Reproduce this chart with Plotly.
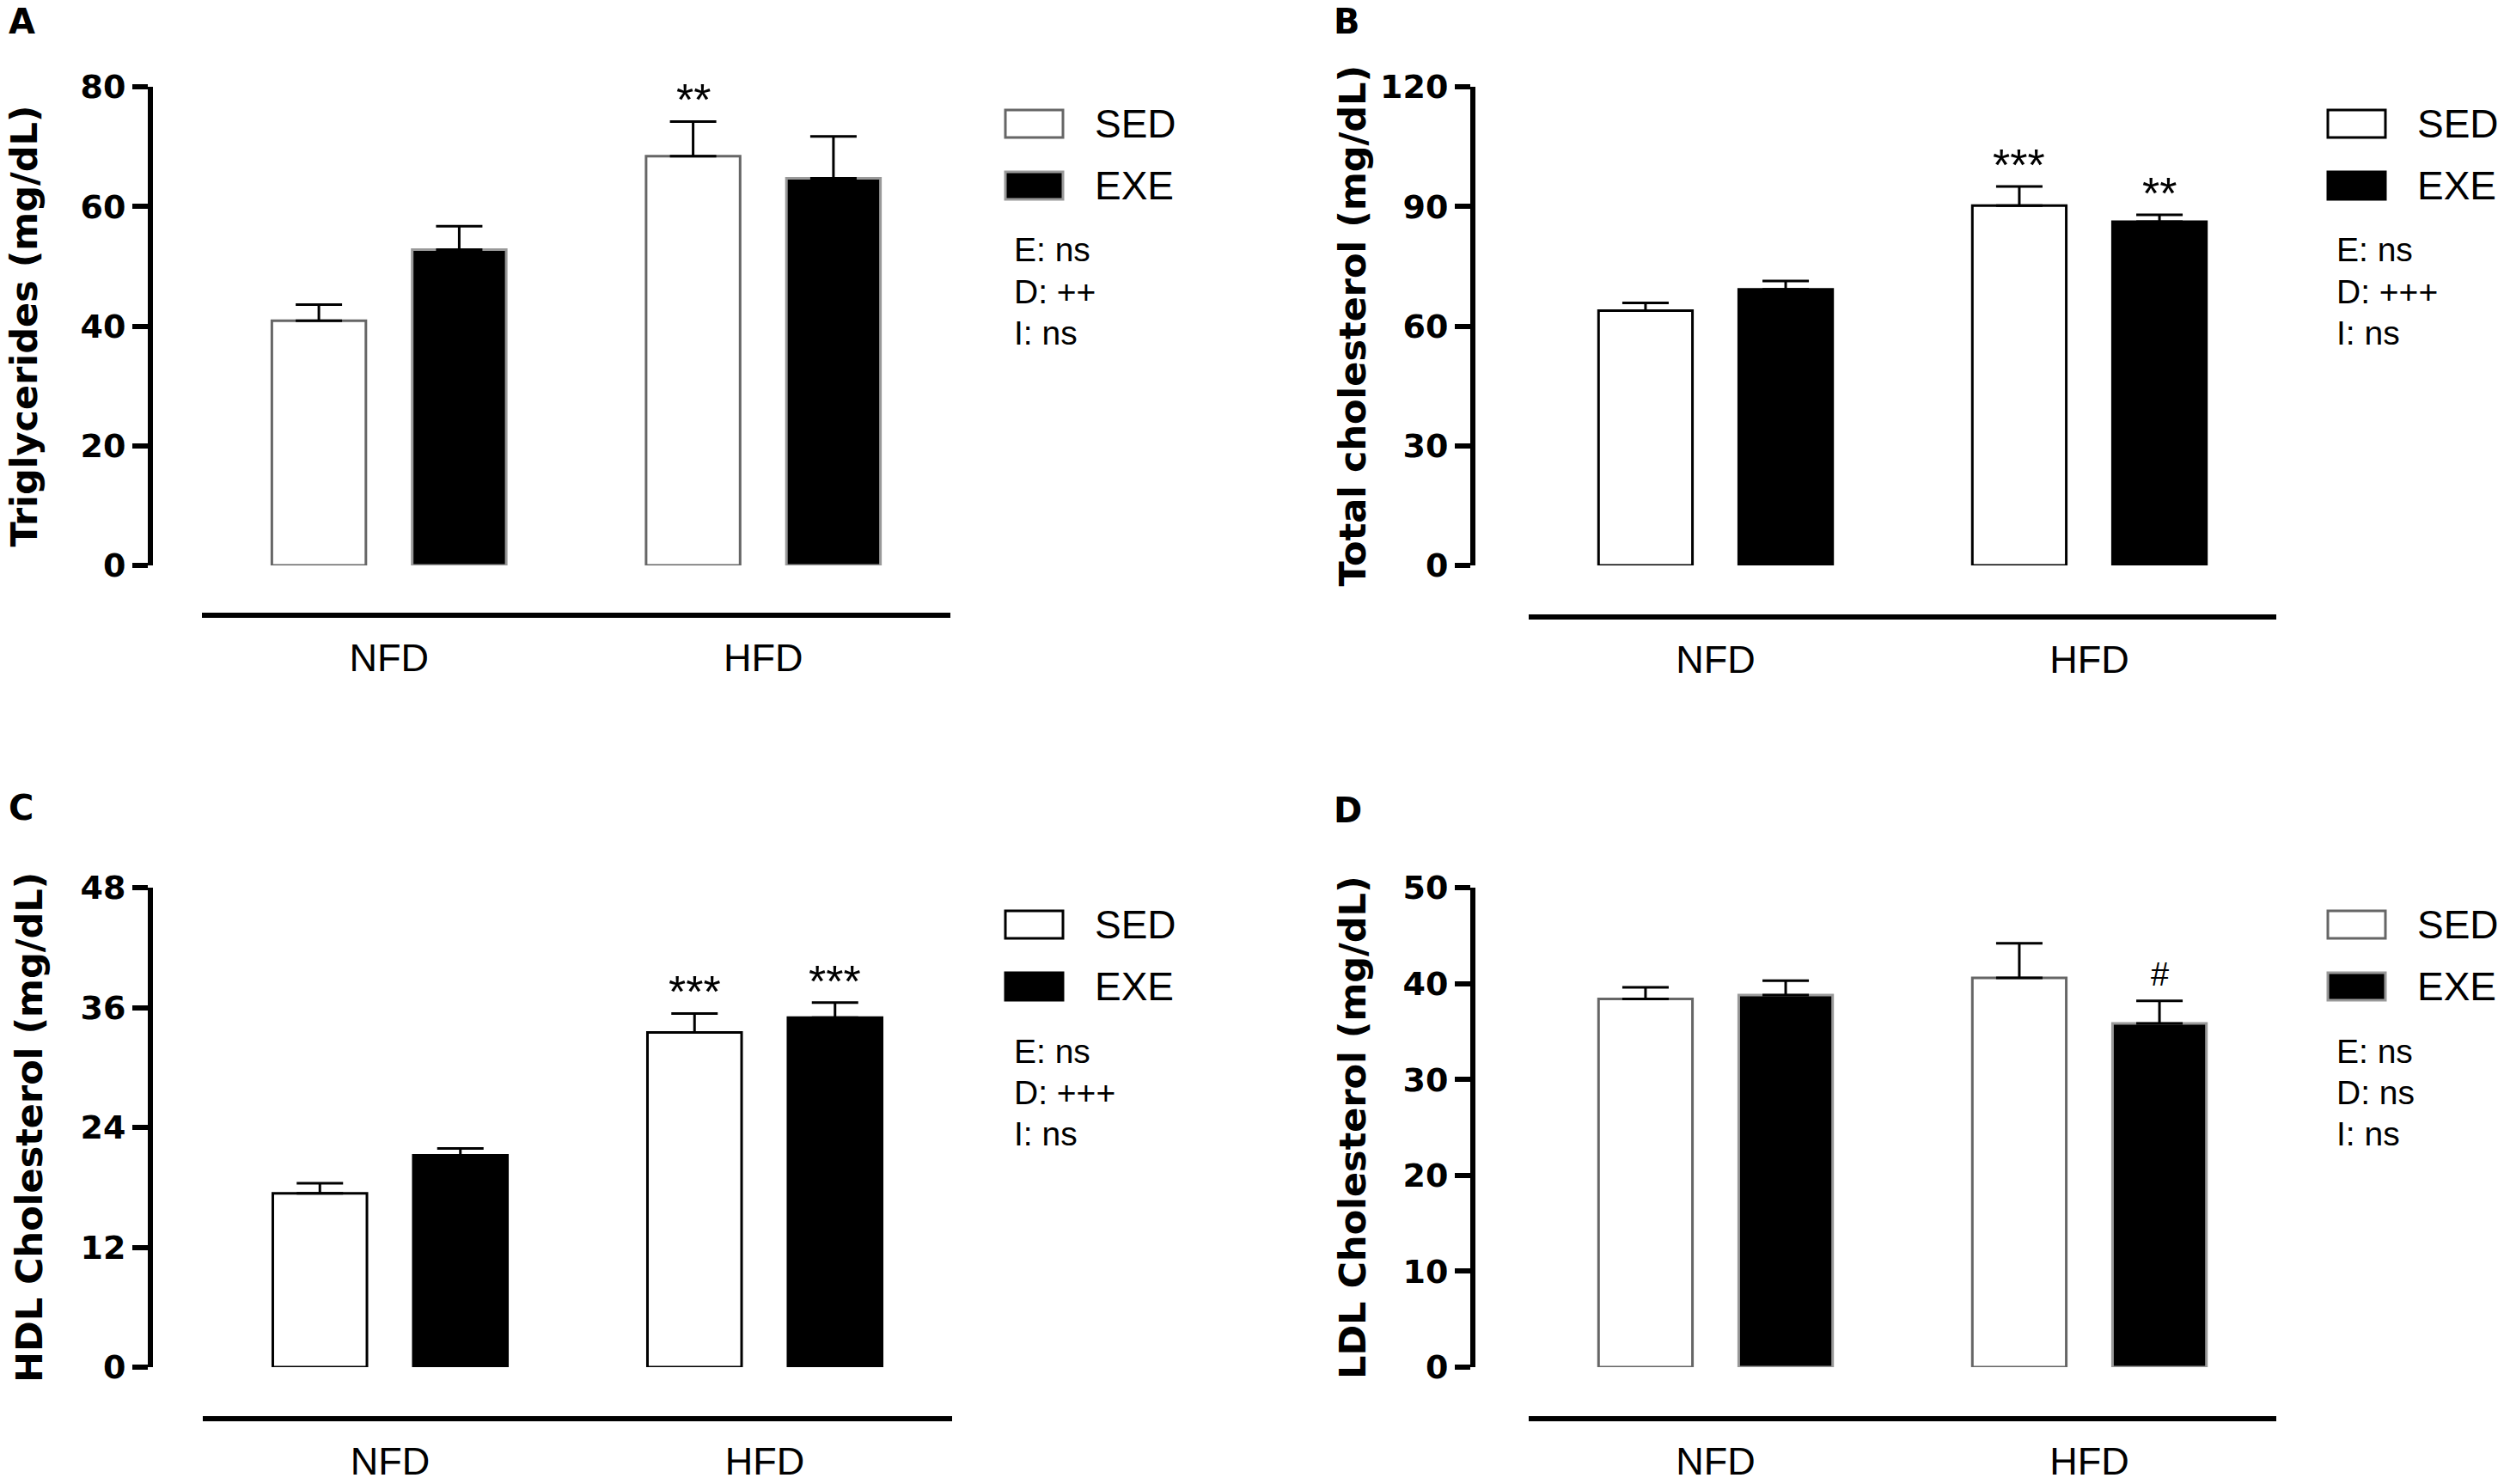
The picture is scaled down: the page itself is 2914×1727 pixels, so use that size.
import plotly.graph_objects as go

W, H = 2914, 1727

# ---------------- data ----------------
categories = ["NFD", "HFD"]
series_names = ["SED", "EXE"]

# A: Triglycerides
tg_sed = [40.9, 68.4]
tg_sed_err = [2.7, 5.8]
tg_exe = [52.8, 64.7]
tg_exe_err = [3.9, 7.0]
tg_ticks = [0, 20, 40, 60, 80]

# B: Total cholesterol
tc_sed = [63.9, 90.2]
tc_sed_err = [1.9, 4.8]
tc_exe = [69.2, 86.2]
tc_exe_err = [2.1, 1.7]
tc_ticks = [0, 30, 60, 90, 120]

# C: HDL cholesterol
hdl_sed = [17.4, 33.5]
hdl_sed_err = [1.0, 1.9]
hdl_exe = [21.2, 35.0]
hdl_exe_err = [0.7, 1.5]
hdl_ticks = [0, 12, 24, 36, 48]

# D: LDL cholesterol
ldl_sed = [38.4, 40.6]
ldl_sed_err = [1.2, 3.6]
ldl_exe = [38.8, 35.85]
ldl_exe_err = [1.5, 2.35]
ldl_ticks = [0, 10, 20, 30, 40, 50]

# significance marks: (series, category, text)
tg_marks = [("SED", "HFD", "**")]
tc_marks = [("SED", "HFD", "***"), ("EXE", "HFD", "**")]
hdl_marks = [("SED", "HFD", "***"), ("EXE", "HFD", "***")]
ldl_marks = [("EXE", "HFD", "#")]

tg_stats = ["E: ns", "D: ++", "I: ns"]
tc_stats = ["E: ns", "D: +++", "I: ns"]
hdl_stats = ["E: ns", "D: +++", "I: ns"]
ldl_stats = ["E: ns", "D: ns", "I: ns"]

# ---------------- layout geometry (pixels) ----------------
BARGAP = 0.25
BARGROUPGAP = 0.33
FONT_REG = "Liberation Sans, Arial, sans-serif"
FONT_BOLD = "DejaVu Sans, Verdana, sans-serif"

panels = [
    dict(letter="A", title="Triglycerides (mg/dL)", sed=tg_sed, sed_err=tg_sed_err,
         exe=tg_exe, exe_err=tg_exe_err, ticks=tg_ticks, marks=tg_marks, stats=tg_stats,
         ax=175, top=101, bot=658, xline=716, xd=(235, 1106), title_x=27, label=(8, 0),
         edge_sed="#666666", edge_exe="#999999"),
    dict(letter="B", title="Total cholesterol (mg/dL)", sed=tc_sed, sed_err=tc_sed_err,
         exe=tc_exe, exe_err=tc_exe_err, ticks=tc_ticks, marks=tc_marks, stats=tc_stats,
         ax=1714, top=101, bot=658, xline=718, xd=(1779, 2649), title_x=1573, label=(1550, 0),
         edge_sed="#000000", edge_exe="#000000"),
    dict(letter="C", title="HDL Cholesterol (mg/dL)", sed=hdl_sed, sed_err=hdl_sed_err,
         exe=hdl_exe, exe_err=hdl_exe_err, ticks=hdl_ticks, marks=hdl_marks, stats=hdl_stats,
         ax=175, top=1033, bot=1591, xline=1651, xd=(236, 1108), title_x=34, label=(8, 915),
         edge_sed="#000000", edge_exe="#000000"),
    dict(letter="D", title="LDL Cholesterol (mg/dL)", sed=ldl_sed, sed_err=ldl_sed_err,
         exe=ldl_exe, exe_err=ldl_exe_err, ticks=ldl_ticks, marks=ldl_marks, stats=ldl_stats,
         ax=1714, top=1033, bot=1591, xline=1651, xd=(1779, 2649), title_x=1574, label=(1550, 918),
         edge_sed="#666666", edge_exe="#999999"),
]


def fx(px):
    return px / W


def fy(py):
    return 1 - py / H


fig = go.Figure()
shapes = []
annotations = []
layout_axes = {}

for i, p in enumerate(panels):
    n = i + 1
    xa = "x" if n == 1 else f"x{n}"
    ya = "y" if n == 1 else f"y{n}"
    xkey = "xaxis" if n == 1 else f"xaxis{n}"
    ykey = "yaxis" if n == 1 else f"yaxis{n}"

    for name, vals, errs, fill, edge in [
        ("SED", p["sed"], p["sed_err"], "#ffffff", p["edge_sed"]),
        ("EXE", p["exe"], p["exe_err"], "#000000", p["edge_exe"]),
    ]:
        fig.add_trace(go.Bar(
            x=categories, y=vals, name=name, xaxis=xa, yaxis=ya,
            marker=dict(color=fill, line=dict(color=edge, width=3)),
            error_y=dict(type="data", symmetric=False, array=errs,
                         arrayminus=[0] * len(errs), color="#000000",
                         thickness=3, width=27),
            showlegend=False, offsetgroup=name,
        ))

    ymax = p["ticks"][-1]
    layout_axes[xkey] = dict(
        domain=[fx(p["xd"][0]), fx(p["xd"][1])],
        anchor="free", position=fy(p["xline"]),
        range=[-0.5, len(categories) - 0.5],
        showline=True, linecolor="#000000", linewidth=6,
        ticks="", showgrid=False, zeroline=False, automargin=False,
        tickfont=dict(family=FONT_REG, size=45, color="#000000"),
        ticklabelstandoff=8, fixedrange=True,
    )
    layout_axes[ykey] = dict(
        domain=[fy(p["bot"]), fy(p["top"])],
        anchor="free", position=fx(p["ax"]),
        range=[0, ymax], tickvals=p["ticks"],
        showline=True, linecolor="#000000", linewidth=6,
        ticks="outside", ticklen=18, tickwidth=6, tickcolor="#000000",
        showgrid=False, zeroline=False, automargin=False,
        tickfont=dict(family=FONT_BOLD, size=38, color="#000000", weight="bold"),
        fixedrange=True,
    )

    # axis title
    annotations.append(dict(
        text=p["title"], xref="paper", yref="paper",
        x=fx(p["title_x"]), y=fy((p["top"] + p["bot"]) / 2),
        xanchor="center", yanchor="middle", textangle=-90, showarrow=False,
        font=dict(family=FONT_BOLD, size=43, color="#000000", weight="bold"),
    ))
    # panel letter (top of its text box at label y)
    annotations.append(dict(
        text=p["letter"], xref="paper", yref="paper",
        x=fx(p["label"][0]), y=fy(p["label"][1]),
        xanchor="left", yanchor="top", showarrow=False,
        font=dict(family=FONT_BOLD, size=40, color="#000000", weight="bold"),
    ))

    # significance marks above error bars
    half = (1 - BARGAP) / 4
    for series, cat, txt in p["marks"]:
        ci = categories.index(cat)
        if series == "SED":
            xv = ci - half
            top = p["sed"][ci] + p["sed_err"][ci]
        else:
            xv = ci + half
            top = p["exe"][ci] + p["exe_err"][ci]
        annotations.append(dict(
            text=txt, xref=xa, yref=ya, x=xv, y=top,
            xanchor="center", yanchor="bottom", showarrow=False,
            yshift=(8 if txt == "#" else -6),
            font=dict(family=FONT_REG, size=(38 if txt == "#" else 52), color="#000000"),
        ))

    # legend swatches + labels
    lx0 = p["ax"] + 995
    lx1 = lx0 + 67
    for k, (name, fill, edge) in enumerate([
        ("SED", "#ffffff", p["edge_sed"]),
        ("EXE", "#000000", p["edge_exe"]),
    ]):
        cy = p["top"] + 43 + k * 72
        shapes.append(dict(
            type="rect", xref="paper", yref="paper",
            x0=fx(lx0), x1=fx(lx1), y0=fy(cy + 16), y1=fy(cy - 16),
            fillcolor=fill, line=dict(color=edge, width=3),
        ))
        annotations.append(dict(
            text=name, xref="paper", yref="paper",
            x=fx(p["ax"] + 1097), y=fy(cy), xanchor="left", yanchor="middle",
            showarrow=False, font=dict(family=FONT_REG, size=46, color="#000000"),
        ))
    for k, s in enumerate(p["stats"]):
        annotations.append(dict(
            text=s, xref="paper", yref="paper",
            x=fx(p["ax"] + 1003), y=fy(p["top"] + 190 + k * 48),
            xanchor="left", yanchor="middle", showarrow=False,
            font=dict(family=FONT_REG, size=39, color="#000000"),
        ))

fig.update_layout(
    template="none",
    width=W, height=H,
    margin=dict(l=0, r=0, t=0, b=0, pad=0, autoexpand=False),
    paper_bgcolor="#ffffff", plot_bgcolor="rgba(0,0,0,0)",
    barmode="group", bargap=BARGAP, bargroupgap=BARGROUPGAP,
    showlegend=False,
    shapes=shapes, annotations=annotations,
    **layout_axes,
)

fig.write_html("out.html", config={"displayModeBar": False},
               post_script="document.body.style.margin='0';")
